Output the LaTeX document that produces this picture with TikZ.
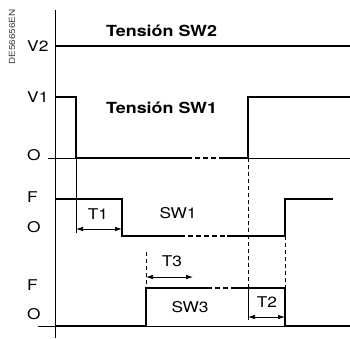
\documentclass[tikz,border=0pt]{standalone}
\usepackage{fontspec}
\setmainfont{TeX Gyre Heros}[FakeStretch=1.17]
\usetikzlibrary{arrows.meta}
\tikzset{
  axis/.style={line width=0.8pt},
  signal/.style={line width=2pt},
  broken/.style={line width=2pt, dash pattern=on 5pt off 3pt},
  gap/.style={white, line width=3pt},
  guide/.style={line width=0.6pt, dash pattern=on 4pt off 3pt},
  dim/.style={line width=0.7pt, {Latex[length=7pt,width=4.5pt]}-{Latex[length=7pt,width=4.5pt]}},
  lvl/.style={anchor=west, inner sep=0pt, font=\fontsize{14.8}{14.8}\selectfont},
  lbl/.style={inner sep=0pt, font=\fontsize{14.8}{14.8}\selectfont},
  title/.style={anchor=west, inner sep=0pt, font=\fontsize{15.3}{15.3}\selectfont\bfseries}
}
\begin{document}
\begin{tikzpicture}[x=1pt,y=-1pt]
  \useasboundingbox (0,0) rectangle (350,338);
  % reference mark
  \node[rotate=90, inner sep=0pt, text=black!75, font=\fontsize{8.5}{8.5}\selectfont] (ref) at (12,37) {DE56656EN};
  % axes
  \draw[axis] (55,10) -- (55,338);
  \draw[axis] (48,158) -- (350,158);
  \draw[axis] (38,326) -- (350,326);
  % levels
  \node[lvl] (v2) at (27,46) {V2};
  \node[lvl] (v1) at (27,97) {V1};
  \node[lvl] (o1) at (27,155) {O};
  \node[lvl] (f2) at (27,197) {F};
  \node[lvl] (o2) at (27,227) {O};
  \node[lvl] (f3) at (27,285) {F};
  \node[lvl] (o3) at (27,314) {O};
  % voltage SW2
  \draw[signal] (55,46) -- (350,46);
  \node[title] (tsw2) at (106,31) {Tensión SW2};
  % voltage SW1
  \draw[signal] (55,97) -- (76,97) -- (76,158) -- (187,158);
  \draw[gap] (187,158) -- (223,158);
  \draw[broken] (187,158) -- (223,158);
  \draw[signal] (223,158) -- (248,158) -- (248,97) -- (350,97);
  \node[title] (tsw1) at (106,108) {Tensión SW1};
  % switch SW1
  \draw[signal] (55,199) -- (122,199) -- (122,236) -- (180,236);
  \draw[broken] (180,236) -- (227,236);
  \draw[signal] (227,236) -- (285,236) -- (285,199) -- (333,199);
  \node[lbl] (sw1) at (178,213) {SW1};
  % switch SW3
  \draw[signal] (55,326) -- (146,326) -- (146,288) -- (207,288);
  \draw[broken] (207,288) -- (233,288);
  \draw[signal] (233,288) -- (285,288) -- (285,326) -- (350,326);
  \node[lbl] (sw3) at (190,307) {SW3};
  % guides
  \draw[axis] (76,158) -- (76,233);
  \draw[guide] (248,158) -- (248,288);
  \draw[axis] (248,288) -- (248,320);
  \draw[guide] (285,236) -- (285,288);
  \draw[guide] (146,252) -- (146,288);
  % delays
  \coordinate (t1a) at (76,229);
  \coordinate (t1b) at (122,229);
  \draw[dim] (t1a) -- (t1b);
  \node[lbl] (t1) at (98,214) {T1};
  \coordinate (t3a) at (146,277);
  \coordinate (t3b) at (193,277);
  \draw[dim] (t3a) -- (t3b);
  \node[lbl] (t3) at (172,261) {T3};
  \coordinate (t2a) at (248,317);
  \coordinate (t2b) at (285,317);
  \draw[dim] (t2a) -- (t2b);
  \node[lbl] (t2) at (267,302) {T2};
\end{tikzpicture}
\end{document}
